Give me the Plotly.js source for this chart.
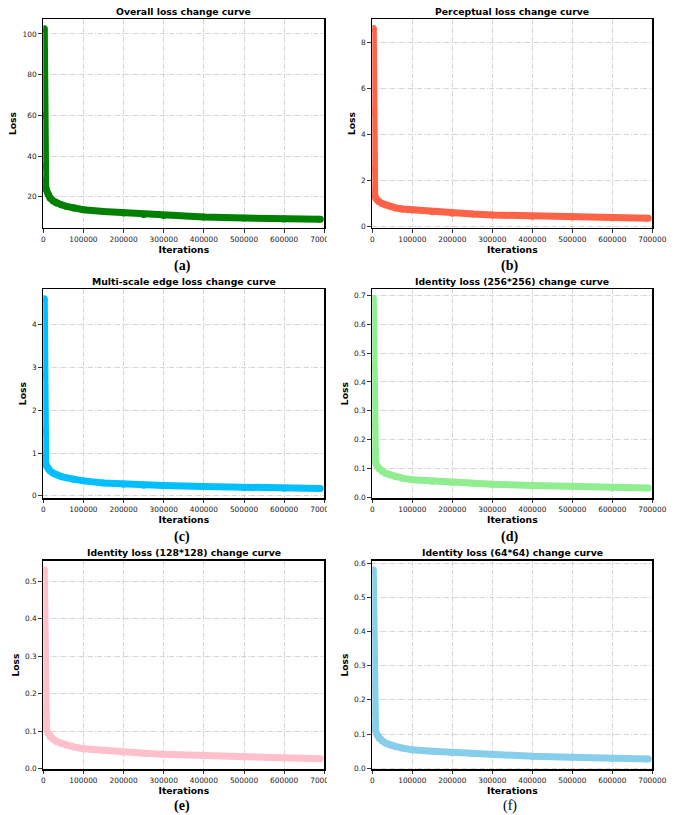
<!DOCTYPE html>
<html><head><meta charset="utf-8">
<script src="https://cdn.plot.ly/plotly-3.0.1.min.js"></script>
<style>html,body{margin:0;padding:0;background:#fff}</style>
</head><body><div id="chart" style="width:678px;height:815px"></div>
<script>
// ---- data ----
const iterations = [2500, 3000, 3500, 4500, 6000, 8000, 12000, 17000, 25000, 33000, 45000, 58000, 75000, 100000, 150000, 200000, 250000, 300000, 400000, 500000, 600000, 690000];
const overallLoss    = [102.5, 60, 35, 28, 25, 23.2, 21.2, 19.3, 17.9, 16.9, 16.0, 15.2, 14.4, 13.6, 12.7, 12.0, 11.3, 10.8, 10.0, 9.5, 9.0, 8.85];
const perceptualLoss = [8.6, 5.0, 2.5, 1.6, 1.35, 1.25, 1.15, 1.08, 1.0, 0.94, 0.87, 0.81, 0.76, 0.72, 0.64, 0.58, 0.54, 0.50, 0.45, 0.42, 0.38, 0.36];
const edgeLoss       = [4.6, 2.8, 1.5, 0.95, 0.78, 0.70, 0.64, 0.58, 0.53, 0.49, 0.45, 0.42, 0.39, 0.35, 0.30, 0.27, 0.25, 0.24, 0.22, 0.195, 0.18, 0.17];
const identity256    = [0.69, 0.45, 0.25, 0.16, 0.13, 0.12, 0.108, 0.099, 0.090, 0.083, 0.077, 0.071, 0.066, 0.060, 0.055, 0.051, 0.048, 0.045, 0.040, 0.037, 0.033, 0.032];
const identity128    = [0.53, 0.37, 0.22, 0.15, 0.12, 0.105, 0.095, 0.085, 0.078, 0.072, 0.067, 0.062, 0.058, 0.053, 0.048, 0.044, 0.041, 0.038, 0.034, 0.031, 0.028, 0.026];
const identity64     = [0.58, 0.40, 0.24, 0.16, 0.125, 0.11, 0.098, 0.088, 0.080, 0.074, 0.068, 0.064, 0.059, 0.054, 0.050, 0.046, 0.043, 0.040, 0.035, 0.032, 0.029, 0.027];

const panelTitles = ["Overall loss change curve", "Perceptual loss change curve", "Multi-scale edge loss change curve",
                     "Identity loss (256*256) change curve", "Identity loss (128*128) change curve", "Identity loss (64*64) change curve"];
const captions = ["(a)", "(b)", "(c)", "(d)", "(e)", "(f)"];
const xTitle = "Iterations";
const yTitle = "Loss";

// ---- styling / layout ----
const series = [overallLoss, perceptualLoss, edgeLoss, identity256, identity128, identity64];
const colors = ["#008000", "#FF6347", "#00BFFF", "#90EE90", "#FFC0CB", "#87CEEB"];
const yRanges = [[4.75, 107.2], [-0.05, 9.0], [-0.05, 4.82], [-0.003, 0.722], [-0.002, 0.555], [-0.003, 0.607]];
const yDticks = [20, 2, 1, 0.1, 0.1, 0.1];
const yFormats = ["d", "d", "d", ".1f", ".1f", ".1f"];
const captionBold = [true, true, true, true, true, false];

const W = 678, H = 815;
const cols = [[43.3, 324.3], [372.3, 652.3]];
const rows = [[19.3, 227.7], [289.3, 498.0], [560.7, 769.3]];
const titleY = [11, 281, 552.5];
const captionY = [266, 537, 806];
const captionX = [182, 510];

const tickFont = {family: "DejaVu Sans", size: 7.4, color: "#222"};
const labFont = {family: "DejaVu Sans", size: 9.2, color: "#000", weight: "bold"};

const data = [];
const layout = {
  width: W, height: H,
  margin: {l: 0, r: 0, t: 0, b: 0},
  paper_bgcolor: "#fff", plot_bgcolor: "#fff",
  showlegend: false,
  annotations: [], shapes: []
};

for (let i = 0; i < 6; i++) {
  const r = Math.floor(i / 2), c = i % 2;
  const n = i + 1;
  const xd = [cols[c][0] / W, cols[c][1] / W];
  const yd = [1 - rows[r][1] / H, 1 - rows[r][0] / H];
  const xk = n === 1 ? "xaxis" : "xaxis" + n;
  const yk = n === 1 ? "yaxis" : "yaxis" + n;
  const common = {
    ticks: "outside", ticklen: 3.5, tickwidth: 0.8, tickcolor: "#000",
    showline: true, mirror: true, linecolor: "#000", linewidth: 1.6,
    showgrid: true, gridcolor: "#cccccc", gridwidth: 0.8, griddash: "5px,1.5px,1px,1.5px",
    zeroline: false, tickfont: tickFont, fixedrange: true, automargin: false
  };
  layout[xk] = Object.assign({}, common, {
    domain: xd, anchor: "y" + n, range: [0, 700000], tick0: 0, dtick: 100000, tickformat: "d",
    title: {text: xTitle, font: labFont, standoff: 2}
  });
  layout[yk] = Object.assign({}, common, {
    domain: yd, anchor: "x" + n, range: yRanges[i], tick0: 0, dtick: yDticks[i], tickformat: yFormats[i],
    title: {text: yTitle, font: labFont, standoff: 4}
  });
  data.push({
    x: iterations, y: series[i], xaxis: "x" + n, yaxis: "y" + n,
    mode: "lines+markers", line: {color: colors[i], width: 7},
    marker: {color: colors[i], size: 7}, hoverinfo: "skip"
  });
  layout.annotations.push({
    text: panelTitles[i], xref: "paper", yref: "paper",
    x: (xd[0] + xd[1]) / 2, y: 1 - titleY[r] / H, xanchor: "center", yanchor: "middle",
    showarrow: false, font: {family: "DejaVu Sans", size: 9.3, color: "#000", weight: "bold"}
  });
  layout.annotations.push({
    text: captions[i], xref: "paper", yref: "paper",
    x: captionX[c] / W, y: 1 - captionY[r] / H, xanchor: "center", yanchor: "middle",
    showarrow: false, font: {family: "Liberation Serif", size: 14, color: "#000", weight: captionBold[i] ? "bold" : "normal"}
  });
}
// the left column is cropped in the source image, cutting the last tick label
[[231, 246], [501, 516], [773, 788]].forEach(function (b) {
  layout.shapes.push({type: "rect", xref: "paper", yref: "paper", layer: "above",
    x0: 327 / W, x1: 345 / W, y0: 1 - b[1] / H, y1: 1 - b[0] / H,
    fillcolor: "#fff", line: {width: 0}});
});

Plotly.newPlot("chart", data, layout, {displayModeBar: false, staticPlot: true});
</script></body></html>
